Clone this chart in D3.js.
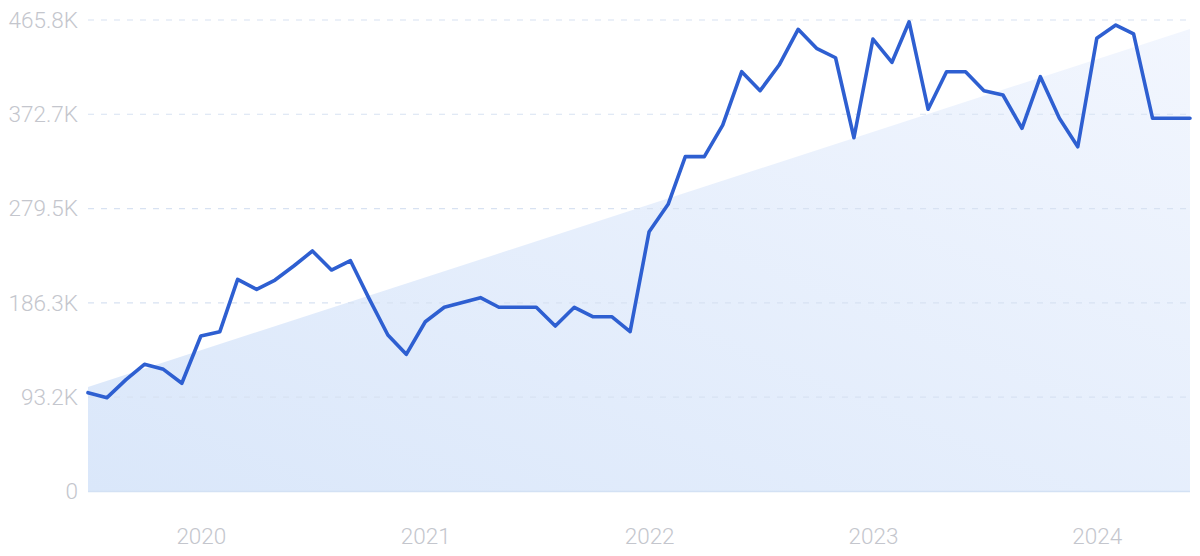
<!DOCTYPE html>
<html>
<head>
<meta charset="utf-8">
<script src="https://cdn.jsdelivr.net/npm/d3@7"></script>
<style>
  html, body { margin: 0; padding: 0; background: #ffffff; }
  svg { display: block; }
</style>
</head>
<body>
<svg id="chart" width="1200" height="556"></svg>
<script>
// ---- data ----
const startMonth = "2019-07";
const values = [
  97.6, 92.7, 110.5, 125.7, 120.7, 106.9, 153.6, 157.9, 209.6, 199.7,
  208.9, 223.0, 237.6, 218.8, 228.0, 191.0, 154.6, 135.5, 167.7, 182.0,
  186.5, 191.5, 182.0, 182.0, 182.0, 163.5, 182.0, 172.7, 172.7, 157.9,
  256.7, 283.7, 330.8, 330.8, 362.0, 414.7, 396.0, 421.3, 456.6, 437.8,
  428.5, 349.5, 447.0, 424.0, 464.0, 377.6, 414.7, 414.7, 396.0, 391.7,
  358.8, 409.8, 368.7, 340.6, 447.7, 460.8, 452.0, 368.7, 368.7, 368.7
]; // thousands
const trendValues = [103.3, 456.9]; // thousands, at first and last month
const yTicks = [0, 93.2, 186.3, 279.5, 372.7, 465.8];
const yTickLabels = ["0", "93.2K", "186.3K", "279.5K", "372.7K", "465.8K"];
const xTickYears = [2020, 2021, 2022, 2023, 2024];

// ---- build ----
const parse = d3.timeParse("%Y-%m");
const d0 = parse(startMonth);
const data = values.map((v, i) => ({ date: d3.timeMonth.offset(d0, i), value: v }));
const lastDate = data[data.length - 1].date;

const svg = d3.select("#chart");
const mLeft = 88, mRight = 1190, mTop = 20, mBottom = 491.5;

const x = d3.scaleTime().domain([d0, lastDate]).range([mLeft, mRight]);
const y = d3.scaleLinear().domain([0, 465.8]).range([mBottom, mTop]);

const defs = svg.append("defs");
const grad = defs.append("linearGradient")
  .attr("id", "areaGrad")
  .attr("x1", "0%").attr("y1", "100%")
  .attr("x2", "100%").attr("y2", "0%");
grad.append("stop").attr("offset", "0%").attr("stop-color", "#dae7fa");
grad.append("stop").attr("offset", "100%").attr("stop-color", "#f2f6fe");

// trend area
const trendData = [
  { date: d0, value: trendValues[0] },
  { date: lastDate, value: trendValues[1] }
];
const area = d3.area()
  .x(d => x(d.date))
  .y0(y(0))
  .y1(d => y(d.value));
svg.append("path")
  .datum(trendData)
  .attr("d", area)
  .attr("fill", "url(#areaGrad)");

// gridlines
const grid = svg.append("g");
grid.selectAll("line")
  .data(yTicks.filter(t => t > 0))
  .join("line")
  .attr("x1", mLeft).attr("x2", mRight)
  .attr("y1", d => y(d)).attr("y2", d => y(d))
  .attr("stroke", "#d8e2f2")
  .attr("stroke-width", 1.2)
  .attr("stroke-dasharray", "6,7");

// baseline
svg.append("line")
  .attr("x1", mLeft).attr("x2", mRight)
  .attr("y1", y(0)).attr("y2", y(0))
  .attr("stroke", "#d3e1f4")
  .attr("stroke-width", 1.5);

// y axis labels
const yAxis = d3.axisLeft(y)
  .tickValues(yTicks)
  .tickFormat((d, i) => yTickLabels[i])
  .tickSize(0)
  .tickPadding(10);
const gy = svg.append("g")
  .attr("transform", `translate(${mLeft},0)`)
  .call(yAxis);
gy.select(".domain").remove();
gy.selectAll("text")
  .attr("fill", "#c4c6cd")
  .attr("font-family", "Roboto, 'DejaVu Sans', sans-serif")
  .attr("font-size", 22.5)
  .attr("font-weight", 300);

// x axis labels
const xAxis = d3.axisBottom(x)
  .tickValues(xTickYears.map(yr => new Date(yr, 0, 1)))
  .tickFormat(d3.timeFormat("%Y"))
  .tickSize(0)
  .tickPadding(37);
const gx = svg.append("g")
  .attr("transform", `translate(0,${mBottom})`)
  .call(xAxis);
gx.select(".domain").remove();
gx.selectAll("text")
  .attr("fill", "#c4c6cd")
  .attr("font-family", "Roboto, 'DejaVu Sans', sans-serif")
  .attr("font-size", 22.5)
  .attr("font-weight", 300);

// line
const line = d3.line()
  .x(d => x(d.date))
  .y(d => y(d.value));
svg.append("path")
  .datum(data)
  .attr("d", line)
  .attr("fill", "none")
  .attr("stroke", "#2e5fd1")
  .attr("stroke-width", 3.6)
  .attr("stroke-linejoin", "round")
  .attr("stroke-linecap", "round");
</script>
</body>
</html>
